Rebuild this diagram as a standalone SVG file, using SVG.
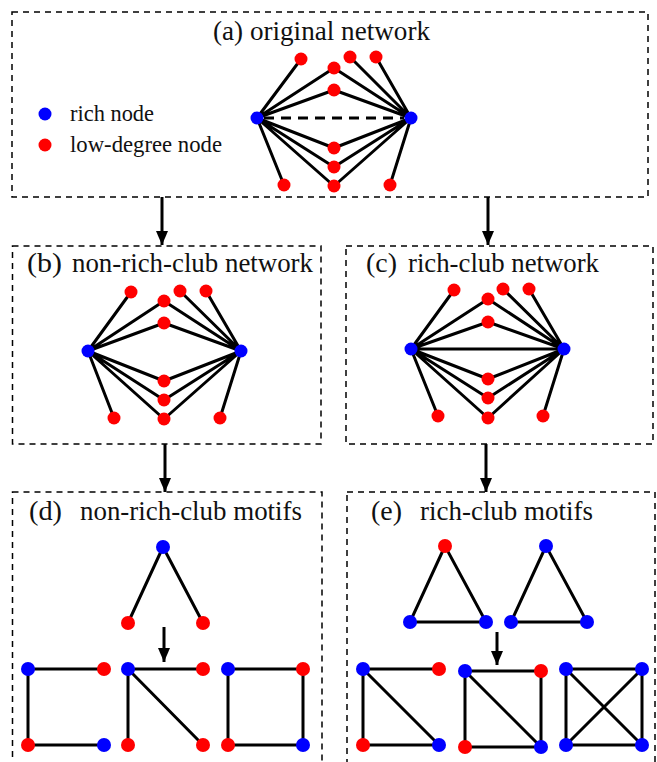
<svg xmlns="http://www.w3.org/2000/svg" width="657" height="762" viewBox="0 0 657 762">
  <style>
    .frame { fill: none; stroke: #000; stroke-width: 1.5; stroke-dasharray: 6 5; }
    .edge { stroke: #000; stroke-width: 3; stroke-linecap: round; fill: none; }
    .dash { stroke: #000; stroke-width: 3; stroke-dasharray: 10 7; fill: none; }
    .shaft { stroke: #000; stroke-width: 3; fill: none; }
    .rich { fill: #0000ff; }
    .low { fill: #ff0000; }
    text { font-family: "Liberation Serif", "Times New Roman", serif; fill: #111; }
    .title { font-size: 28px; }
    .legend { font-size: 23px; }
  </style>
  <defs>
    <marker id="head" viewBox="0 0 14 12" refX="14" refY="6" markerWidth="14" markerHeight="12" markerUnits="userSpaceOnUse" orient="auto">
      <path d="M0,0 L14,6 L0,12 Z" fill="#000"/>
    </marker>
  </defs>

  <!-- panel frames -->
  <g id="frames">
    <rect class="frame" x="12" y="12" width="636" height="185"/>
    <rect class="frame" x="12.5" y="246" width="308.5" height="198"/>
    <rect class="frame" x="346" y="246" width="307" height="198"/>
    <rect class="frame" x="12.5" y="492" width="309.5" height="274"/>
    <rect class="frame" x="347" y="492" width="308" height="274"/>
  </g>

  <!-- panel titles and legend -->
  <g id="labels">
    <text class="title" x="213" y="40" textLength="217" lengthAdjust="spacingAndGlyphs">(a) original network</text>
    <text class="title" x="27" y="272" textLength="35" lengthAdjust="spacingAndGlyphs">(b)</text>
    <text class="title" x="72" y="272" textLength="241" lengthAdjust="spacingAndGlyphs">non-rich-club network</text>
    <text class="title" x="366" y="272" textLength="31" lengthAdjust="spacingAndGlyphs">(c)</text>
    <text class="title" x="408" y="272" textLength="191" lengthAdjust="spacingAndGlyphs">rich-club network</text>
    <text class="title" x="29" y="520" textLength="33" lengthAdjust="spacingAndGlyphs">(d)</text>
    <text class="title" x="80" y="520" textLength="222" lengthAdjust="spacingAndGlyphs">non-rich-club motifs</text>
    <text class="title" x="371" y="520" textLength="31" lengthAdjust="spacingAndGlyphs">(e)</text>
    <text class="title" x="420" y="520" textLength="173" lengthAdjust="spacingAndGlyphs">rich-club motifs</text>
    <text class="legend" x="70" y="121" textLength="84" lengthAdjust="spacingAndGlyphs">rich node</text>
    <text class="legend" x="70" y="152" textLength="152" lengthAdjust="spacingAndGlyphs">low-degree node</text>
  </g>

  <!-- edges and flow arrows -->
  <g id="connectors">
    <!-- (a) original network -->
    <path class="edge" d="M257,118 L301,59 M257,118 L334,68 M257,118 L334,90 M257,118 L334,148 M257,118 L334,167 M257,118 L334,186 M257,118 L284,185"/>
    <path class="edge" d="M411,118 L350,57 M411,118 L376,57 M411,118 L334,68 M411,118 L334,90 M411,118 L334,148 M411,118 L334,167 M411,118 L334,186 M411,118 L390,185"/>
    <path class="dash" d="M264,118 L404,118"/>
    <!-- (b) non-rich-club network -->
    <path class="edge" d="M88,351 L131,292 M88,351 L164,301 M88,351 L164,323 M88,351 L164,381 M88,351 L164,400 M88,351 L164,419 M88,351 L114,418"/>
    <path class="edge" d="M241,351 L180,291 M241,351 L206,291 M241,351 L164,301 M241,351 L164,323 M241,351 L164,381 M241,351 L164,400 M241,351 L164,419 M241,351 L220,418"/>
    <!-- (c) rich-club network -->
    <path class="edge" d="M411,349 L454,290 M411,349 L488,299 M411,349 L488,322 M411,349 L488,379 M411,349 L488,398 M411,349 L488,418 M411,349 L438,416 M411,349 L564,349"/>
    <path class="edge" d="M564,349 L503,289 M564,349 L529,289 M564,349 L488,299 M564,349 L488,322 M564,349 L488,379 M564,349 L488,398 M564,349 L488,418 M564,349 L543,416"/>
    <!-- (d) non-rich-club motifs -->
    <path class="edge" d="M163,547 L128,623 M163,547 L203,623"/>
    <path class="edge" d="M104,669 L28,669 L28,745 L104,745"/>
    <path class="edge" d="M203,669 L128,669 L128,745 M128,669 L203,745"/>
    <path class="edge" d="M228,669 L303,669 L303,745 L228,745 Z"/>
    <!-- (e) rich-club motifs -->
    <path class="edge" d="M445,546 L410,622 L486,622 Z"/>
    <path class="edge" d="M546,546 L511,622 L587,622 Z"/>
    <path class="edge" d="M439,669 L363,669 L363,745 L439,745 M363,669 L439,745"/>
    <path class="edge" d="M465,671 L541,671 L541,747 L465,747 Z M465,671 L541,747"/>
    <path class="edge" d="M566,669 L642,669 L642,745 L566,745 Z M566,669 L642,745 M642,669 L566,745"/>
    <!-- flow arrows -->
    <path class="shaft" d="M162,197 L162,245" marker-end="url(#head)"/>
    <path class="shaft" d="M488,197 L488,245" marker-end="url(#head)"/>
    <path class="shaft" d="M165,444 L165,492" marker-end="url(#head)"/>
    <path class="shaft" d="M486,444 L486,492" marker-end="url(#head)"/>
    <path class="shaft" d="M164,627 L164,662" marker-end="url(#head)"/>
    <path class="shaft" d="M497,632 L497,665" marker-end="url(#head)"/>
  </g>

  <!-- legend markers -->
  <g id="legend-rich"><circle class="rich" cx="45" cy="114" r="6.5"/></g>
  <g id="legend-low"><circle class="low" cx="45" cy="145" r="6.5"/></g>

  <!-- (a) nodes -->
  <g id="a-rich-left"><circle class="rich" cx="257" cy="118" r="6.5"/></g>
  <g id="a-rich-right"><circle class="rich" cx="411" cy="118" r="6.5"/></g>
  <g id="a-low-1"><circle class="low" cx="301" cy="59" r="6.5"/></g>
  <g id="a-low-2"><circle class="low" cx="334" cy="68" r="6.5"/></g>
  <g id="a-low-3"><circle class="low" cx="350" cy="57" r="6.5"/></g>
  <g id="a-low-4"><circle class="low" cx="376" cy="57" r="6.5"/></g>
  <g id="a-low-5"><circle class="low" cx="334" cy="90" r="6.5"/></g>
  <g id="a-low-6"><circle class="low" cx="334" cy="148" r="6.5"/></g>
  <g id="a-low-7"><circle class="low" cx="334" cy="167" r="6.5"/></g>
  <g id="a-low-8"><circle class="low" cx="334" cy="186" r="6.5"/></g>
  <g id="a-low-9"><circle class="low" cx="284" cy="185" r="6.5"/></g>
  <g id="a-low-10"><circle class="low" cx="390" cy="185" r="6.5"/></g>

  <!-- (b) nodes -->
  <g id="b-rich-left"><circle class="rich" cx="88" cy="351" r="6.5"/></g>
  <g id="b-rich-right"><circle class="rich" cx="241" cy="351" r="6.5"/></g>
  <g id="b-low-1"><circle class="low" cx="131" cy="292" r="6.5"/></g>
  <g id="b-low-2"><circle class="low" cx="164" cy="301" r="6.5"/></g>
  <g id="b-low-3"><circle class="low" cx="180" cy="291" r="6.5"/></g>
  <g id="b-low-4"><circle class="low" cx="206" cy="291" r="6.5"/></g>
  <g id="b-low-5"><circle class="low" cx="164" cy="323" r="6.5"/></g>
  <g id="b-low-6"><circle class="low" cx="164" cy="381" r="6.5"/></g>
  <g id="b-low-7"><circle class="low" cx="164" cy="400" r="6.5"/></g>
  <g id="b-low-8"><circle class="low" cx="164" cy="419" r="6.5"/></g>
  <g id="b-low-9"><circle class="low" cx="114" cy="418" r="6.5"/></g>
  <g id="b-low-10"><circle class="low" cx="220" cy="418" r="6.5"/></g>

  <!-- (c) nodes -->
  <g id="c-rich-left"><circle class="rich" cx="411" cy="349" r="6.5"/></g>
  <g id="c-rich-right"><circle class="rich" cx="564" cy="349" r="6.5"/></g>
  <g id="c-low-1"><circle class="low" cx="454" cy="290" r="6.5"/></g>
  <g id="c-low-2"><circle class="low" cx="488" cy="299" r="6.5"/></g>
  <g id="c-low-3"><circle class="low" cx="503" cy="289" r="6.5"/></g>
  <g id="c-low-4"><circle class="low" cx="529" cy="289" r="6.5"/></g>
  <g id="c-low-5"><circle class="low" cx="488" cy="322" r="6.5"/></g>
  <g id="c-low-6"><circle class="low" cx="488" cy="379" r="6.5"/></g>
  <g id="c-low-7"><circle class="low" cx="488" cy="398" r="6.5"/></g>
  <g id="c-low-8"><circle class="low" cx="488" cy="418" r="6.5"/></g>
  <g id="c-low-9"><circle class="low" cx="438" cy="416" r="6.5"/></g>
  <g id="c-low-10"><circle class="low" cx="543" cy="416" r="6.5"/></g>

  <!-- (d) nodes -->
  <g id="d-top"><circle class="rich" cx="163" cy="547" r="7"/></g>
  <g id="d-left"><circle class="low" cx="128" cy="623" r="7"/></g>
  <g id="d-right"><circle class="low" cx="203" cy="623" r="7"/></g>
  <g id="d1-tl"><circle class="rich" cx="28" cy="669" r="7"/></g>
  <g id="d1-tr"><circle class="low" cx="104" cy="669" r="7"/></g>
  <g id="d1-bl"><circle class="low" cx="28" cy="745" r="7"/></g>
  <g id="d1-br"><circle class="rich" cx="104" cy="745" r="7"/></g>
  <g id="d2-tl"><circle class="rich" cx="128" cy="669" r="7"/></g>
  <g id="d2-tr"><circle class="low" cx="203" cy="669" r="7"/></g>
  <g id="d2-bl"><circle class="low" cx="128" cy="745" r="7"/></g>
  <g id="d2-br"><circle class="low" cx="203" cy="745" r="7"/></g>
  <g id="d3-tl"><circle class="rich" cx="228" cy="669" r="7"/></g>
  <g id="d3-tr"><circle class="low" cx="303" cy="669" r="7"/></g>
  <g id="d3-bl"><circle class="low" cx="228" cy="745" r="7"/></g>
  <g id="d3-br"><circle class="rich" cx="303" cy="745" r="7"/></g>

  <!-- (e) nodes -->
  <g id="e1-top"><circle class="low" cx="445" cy="546" r="7"/></g>
  <g id="e1-left"><circle class="rich" cx="410" cy="622" r="7"/></g>
  <g id="e1-right"><circle class="rich" cx="486" cy="622" r="7"/></g>
  <g id="e2-top"><circle class="rich" cx="546" cy="546" r="7"/></g>
  <g id="e2-left"><circle class="rich" cx="511" cy="622" r="7"/></g>
  <g id="e2-right"><circle class="rich" cx="587" cy="622" r="7"/></g>
  <g id="e3-tl"><circle class="rich" cx="363" cy="669" r="7"/></g>
  <g id="e3-tr"><circle class="low" cx="439" cy="669" r="7"/></g>
  <g id="e3-bl"><circle class="low" cx="363" cy="745" r="7"/></g>
  <g id="e3-br"><circle class="rich" cx="439" cy="745" r="7"/></g>
  <g id="e4-tl"><circle class="rich" cx="465" cy="671" r="7"/></g>
  <g id="e4-tr"><circle class="low" cx="541" cy="671" r="7"/></g>
  <g id="e4-bl"><circle class="low" cx="465" cy="747" r="7"/></g>
  <g id="e4-br"><circle class="rich" cx="541" cy="747" r="7"/></g>
  <g id="e5-tl"><circle class="rich" cx="566" cy="669" r="7"/></g>
  <g id="e5-tr"><circle class="rich" cx="642" cy="669" r="7"/></g>
  <g id="e5-bl"><circle class="rich" cx="566" cy="745" r="7"/></g>
  <g id="e5-br"><circle class="rich" cx="642" cy="745" r="7"/></g>
</svg>
